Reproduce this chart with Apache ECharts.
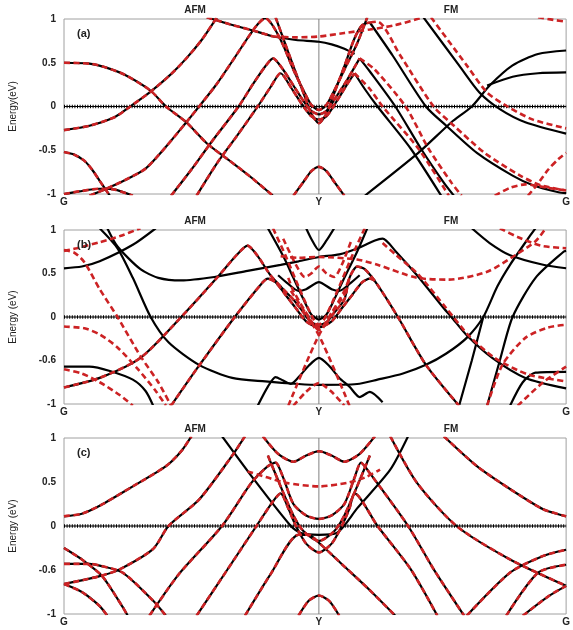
<!DOCTYPE html>
<html><head><meta charset="utf-8">
<script src="https://cdn.jsdelivr.net/npm/echarts@6/dist/echarts.min.js"></script>
<style>html,body{margin:0;padding:0;background:#fff}#c{width:573px;height:630px}</style>
</head><body><div id="c"></div>
<script>
// k-path positions and labels
const K_POS = [0, 1, 1.97];
const K_LABELS = ['G', 'Y', 'G'];
const Y_TICKS = [-1, -0.5, 0, 0.5, 1];
const Y_LABELS_A = ['-1', '-0.5', '0', '0.5', '1'];
const Y_LABELS_B = ['-1', '-0.6', '0', '0.5', '1'];
const Y_LABELS_C = ['-1', '-0.6', '0', '0.5', '1'];
const PANEL_TAGS = ['(a)', '(b)', '(c)'];
const Y_NAMES = ['Energy(eV)', 'Energy (eV)', 'Energy (eV)'];

// ---------- panel (a) ----------
const aBoth = [
  [[0,0.5],[0.1,0.49],[0.16,0.45],[0.24,0.36],[0.34,0.18],[0.4,0],[0.48,-0.18],[0.56,-0.42],[0.65,-0.62],[0.73,-0.8],[0.82,-1.02]],
  [[0,-0.27],[0.1,-0.22],[0.2,-0.12],[0.26,0],[0.34,0.17],[0.42,0.37],[0.48,0.55],[0.54,0.76],[0.58,0.93],[0.6,1.02]],
  [[0.56,1.02],[0.65,0.94],[0.74,0.87],[0.82,0.8]],
  [[0,-0.52],[0.04,-0.55],[0.08,-0.62],[0.11,-0.72],[0.14,-0.85],[0.18,-1.02]],
  [[0,-1.0],[0.06,-0.97],[0.14,-0.94],[0.2,-0.95],[0.27,-1.02]],
  [[0.1,-1.02],[0.166,-0.94],[0.24,-0.84],[0.32,-0.71],[0.4,-0.46],[0.48,-0.18],[0.53,0],[0.6,0.26],[0.67,0.56],[0.72,0.78],[0.76,0.94],[0.79,1.01],[0.82,0.92],[0.86,0.7],[0.9,0.42],[0.94,0.18],[0.97,0.02],[1.0,-0.04],[1.03,0.02],[1.06,0.18],[1.1,0.42],[1.15,0.72],[1.19,1.02]],
  [[0.42,-1.02],[0.5,-0.72],[0.58,-0.4],[0.685,0],[0.74,0.25],[0.79,0.46],[0.82,0.55],[0.86,0.42],[0.9,0.24],[0.94,0.06],[0.97,-0.05],[1.0,-0.09],[1.03,-0.05],[1.07,0.12],[1.11,0.3],[1.14,0.45],[1.16,0.55]],
  [[0.52,-1.02],[0.6,-0.65],[0.68,-0.33],[0.76,0],[0.81,0.22],[0.85,0.38],[0.89,0.22],[0.93,0.04],[0.97,-0.11],[1.0,-0.15],[1.03,-0.11],[1.07,0.06],[1.11,0.25],[1.14,0.38]],
  [[0.83,1.02],[0.86,0.78],[0.9,0.46],[0.94,0.15],[0.97,-0.08],[1.0,-0.19],[1.03,-0.08],[1.06,0.15],[1.1,0.46],[1.14,0.78],[1.17,0.93],[1.2,0.96]],
  [[0.9,-1.02],[0.94,-0.86],[0.97,-0.74],[1.0,-0.69],[1.03,-0.74],[1.06,-0.86],[1.1,-1.02]]
];
const aBlack = [
  [[0.82,0.8],[0.91,0.76],[1.0,0.74],[1.05,0.71],[1.1,0.66],[1.14,0.6]],
  [[1.16,0.55],[1.2,0.4],[1.3,0.0],[1.4,-0.48],[1.49,-0.87],[1.53,-1.02]],
  [[1.14,0.38],[1.18,0.2],[1.23,0.0],[1.36,-0.48],[1.48,-1.02]],
  [[1.2,0.96],[1.29,0.58],[1.42,0.0],[1.5,-0.22],[1.62,-0.53],[1.76,-0.79],[1.84,-0.9],[1.94,-0.98],[1.97,-0.99]],
  [[1.41,1.02],[1.55,0.47],[1.63,0.16],[1.71,-0.03],[1.81,-0.18],[1.97,-0.31]],
  [[1.18,-1.02],[1.39,-0.53],[1.52,-0.18],[1.6,0],[1.67,0.24],[1.76,0.47],[1.86,0.6],[1.97,0.64]],
  [[1.66,0.24],[1.76,0.34],[1.86,0.38],[1.97,0.39]]
];
const aRed = [
  [[0.82,0.8],[0.91,0.79],[1.0,0.8],[1.1,0.84],[1.2,0.88],[1.3,0.93],[1.41,1.02]],
  [[1.16,0.55],[1.22,0.42],[1.34,0.0],[1.43,-0.48],[1.52,-0.87],[1.56,-1.02]],
  [[1.14,0.38],[1.2,0.2],[1.25,0.0],[1.39,-0.48],[1.51,-1.02]],
  [[1.2,0.96],[1.23,0.97],[1.32,0.58],[1.45,0.0],[1.53,-0.22],[1.65,-0.53],[1.79,-0.79],[1.87,-0.9],[1.97,-0.96]],
  [[1.44,1.02],[1.58,0.47],[1.66,0.16],[1.74,0.0],[1.84,-0.15],[1.97,-0.25]],
  [[1.82,-1.02],[1.86,-0.88],[1.9,-0.72],[1.94,-0.6],[1.97,-0.53]],
  [[1.69,-1.02],[1.75,-0.93],[1.81,-0.89],[1.9,-0.93],[1.97,-0.96]],
  [[1.86,1.02],[1.92,0.99],[1.97,0.97]]
];

// ---------- panel (b) ----------
const bBoth = [
  [[0,-0.81],[0.14,-0.7],[0.3,-0.47],[0.46,0],[0.6,0.45],[0.68,0.72],[0.72,0.82],[0.76,0.7],[0.81,0.48],[0.86,0.32],[0.9,0.2],[0.94,0.05],[0.97,-0.06],[1.0,-0.09],[1.03,-0.06],[1.06,0.05],[1.1,0.2],[1.12,0.45],[1.15,0.58],[1.18,0.55],[1.23,0.37],[1.31,0.0],[1.42,-0.55],[1.55,-1.02]],
  [[0.42,-1.02],[0.52,-0.6],[0.67,0],[0.78,0.4],[0.8,0.44],[0.83,0.4],[0.87,0.25],[0.91,0.1],[0.95,-0.05],[1.0,-0.12],[1.05,-0.05],[1.09,0.1],[1.13,0.25],[1.17,0.4],[1.2,0.44],[1.22,0.42]]
];
const bBlack = [
  [[0,0.56],[0.07,0.58],[0.14,0.64],[0.27,0.83],[0.36,1.02]],
  [[0.14,1.02],[0.21,0.79],[0.27,0.45],[0.34,0.0],[0.41,-0.29],[0.53,-0.55],[0.66,-0.7],[0.79,-0.74],[0.92,-0.77],[1.0,-0.78],[1.15,-0.77],[1.23,-0.72],[1.33,-0.65],[1.42,-0.55],[1.5,-0.42],[1.58,-0.24],[1.645,0.0],[1.7,0.35],[1.75,0.6],[1.83,0.94],[1.85,1.02]],
  [[1.55,-1.02],[1.6,-0.5],[1.645,0.0]],
  [[0.17,1.02],[0.21,0.81],[0.3,0.55],[0.37,0.45],[0.46,0.42],[0.59,0.46],[0.72,0.53],[0.85,0.6],[0.92,0.64],[1.0,0.69],[1.08,0.72],[1.16,0.8],[1.22,0.88],[1.25,0.9],[1.3,0.76],[1.385,0.48],[1.49,0.1],[1.52,0.0],[1.58,-0.21],[1.68,-0.47],[1.81,-0.7],[1.97,-0.82]],
  [[1.6,1.02],[1.67,0.85],[1.75,0.71],[1.88,0.6],[1.97,0.56]],
  [[1.66,-1.02],[1.71,-0.5],[1.76,0.0],[1.85,0.45],[1.96,0.75],[1.97,0.76]],
  [[0,-0.57],[0.1,-0.57],[0.18,-0.62],[0.27,-0.72],[0.32,-0.85],[0.35,-1.02]],
  [[1.75,-1.02],[1.8,-0.75],[1.85,-0.64],[1.97,-0.63]],
  [[0.95,1.02],[0.97,0.9],[1.0,0.77],[1.03,0.88],[1.06,1.02]],
  [[0.76,-1.02],[0.8,-0.8],[0.83,-0.69],[0.86,-0.73],[0.89,-0.77],[0.93,-0.66],[0.96,-0.56],[1.0,-0.47],[1.04,-0.56],[1.08,-0.7],[1.12,-0.8],[1.16,-0.92],[1.2,-0.86],[1.25,-0.98]],
  [[0.8,1.02],[0.86,0.7],[0.9,0.45],[0.94,0.2],[0.97,0.03],[1.0,-0.03],[1.03,0.03],[1.06,0.2],[1.1,0.45],[1.15,0.75],[1.19,1.02]],
  [[0.84,0.48],[0.88,0.38],[0.92,0.3],[0.95,0.32],[1.0,0.4],[1.05,0.32],[1.08,0.3],[1.12,0.38],[1.16,0.48]]
];
const bRed = [
  [[0,0.77],[0.04,0.74],[0.08,0.63],[0.14,0.32],[0.21,0.0],[0.3,-0.45],[0.37,-0.75],[0.42,-1.02]],
  [[0,-0.11],[0.08,-0.13],[0.14,-0.2],[0.21,-0.35],[0.29,-0.6],[0.36,-0.85],[0.4,-1.02]],
  [[0,0.76],[0.05,0.79],[0.14,0.86],[0.22,0.93],[0.3,1.02]],
  [[0,-0.6],[0.07,-0.65],[0.14,-0.75],[0.22,-0.9],[0.27,-1.02]],
  [[0.85,0.7],[0.92,0.68],[1.0,0.69],[1.15,0.66],[1.23,0.6],[1.385,0.45],[1.51,0.43],[1.66,0.52],[1.77,0.71],[1.85,0.87],[1.89,1.02]],
  [[1.71,1.02],[1.78,0.92],[1.87,0.82],[1.97,0.79]],
  [[1.25,0.85],[1.3,0.72],[1.39,0.49],[1.5,0.1],[1.59,-0.22],[1.69,-0.47],[1.82,-0.66],[1.97,-0.74]],
  [[1.66,-1.02],[1.72,-0.55],[1.81,-0.24],[1.9,-0.12],[1.97,-0.09]],
  [[1.78,-1.02],[1.88,-0.75],[1.97,-0.57]],
  [[0.82,1.02],[0.87,0.7],[0.91,0.42],[0.95,0.15],[0.98,-0.03],[1.0,-0.09],[1.02,-0.03],[1.05,0.15],[1.09,0.42],[1.13,0.7],[1.18,1.02]],
  [[0.88,0.45],[0.9,0.3],[0.95,0.05],[1.0,-0.15],[1.05,0.05],[1.1,0.3],[1.12,0.45]],
  [[0.89,0.3],[1.0,-0.21],[1.12,-1.02]],
  [[0.88,-1.02],[1.0,-0.21],[1.11,0.3]],
  [[0.86,0.9],[0.91,0.6],[0.945,0.46],[0.97,0.5],[1.0,0.58],[1.03,0.5],[1.06,0.46],[1.09,0.6],[1.13,0.9]],
  [[0.9,-1.02],[0.95,-0.86],[1.0,-0.76],[1.05,-0.86],[1.1,-1.02]]
];

// ---------- panel (c) ----------
const cBoth = [
  [[0,0.11],[0.07,0.14],[0.14,0.23],[0.27,0.45],[0.4,0.68],[0.46,0.85],[0.5,1.02]],
  [[0,-0.25],[0.07,-0.38],[0.15,-0.57],[0.23,-0.92],[0.25,-1.02]],
  [[0,-0.43],[0.1,-0.43],[0.14,-0.45],[0.23,-0.53],[0.35,-0.85],[0.4,-1.02]],
  [[0,-0.66],[0.14,-0.57],[0.22,-0.49],[0.35,-0.26],[0.41,0.0],[0.53,0.3],[0.66,0.8],[0.71,1.02]],
  [[0,-0.66],[0.07,-0.75],[0.14,-0.91],[0.17,-1.02]],
  [[0.335,-1.02],[0.45,-0.55],[0.62,0.0],[0.735,0.49],[0.8,0.68],[0.83,0.72],[0.86,0.55],[0.9,0.25],[0.95,0.12],[1.0,0.08],[1.05,0.12],[1.1,0.25],[1.14,0.55],[1.165,0.72],[1.2,0.6],[1.35,0.0],[1.45,-0.49],[1.57,-1.02]],
  [[0.52,-1.02],[0.64,-0.5],[0.755,0.0],[0.82,0.28],[0.85,0.37],[0.88,0.2],[0.91,0.0],[0.95,-0.2],[1.0,-0.3],[1.05,-0.2],[1.09,0.0],[1.12,0.2],[1.14,0.37],[1.23,0.0],[1.36,-0.49],[1.465,-1.02]],
  [[0.8,0.8],[0.85,0.45],[0.9,0.12],[0.94,-0.06],[1.0,-0.17],[1.06,-0.06],[1.1,0.12],[1.15,0.45],[1.2,0.8]],
  [[0.78,1.02],[0.84,0.82],[0.9,0.73],[0.95,0.8],[1.0,0.85],[1.05,0.8],[1.1,0.73],[1.16,0.82],[1.22,1.02]],
  [[0.92,-1.02],[0.96,-0.85],[1.0,-0.79],[1.04,-0.85],[1.08,-1.02]],
  [[0.71,-1.02],[0.81,-0.55],[0.92,-0.1],[0.96,-0.1],[1.0,-0.19],[1.1,-0.46],[1.2,-0.73],[1.3,-1.02]],
  [[1.49,1.02],[1.62,0.68],[1.75,0.42],[1.88,0.19],[1.97,0.11]],
  [[1.28,1.02],[1.385,0.49],[1.54,0.0],[1.75,-0.38],[1.97,-0.68]],
  [[1.58,-1.02],[1.75,-0.53],[1.88,-0.34],[1.97,-0.27]],
  [[1.735,-1.02],[1.86,-0.53],[1.97,-0.44]],
  [[1.8,-1.02],[1.9,-0.8],[1.97,-0.68]]
];
const cBlack = [
  [[0.62,1.02],[0.74,0.55],[0.89,0.0],[0.93,-0.08],[1.0,-0.1],[1.07,-0.08],[1.15,0.2],[1.28,0.64],[1.35,1.02]]
];
const cRed = [
  [[0.72,0.62],[0.8,0.55],[0.87,0.49],[1.0,0.45],[1.11,0.49],[1.18,0.55],[1.24,0.64]]
];

const PANELS = [
  {both: aBoth, black: aBlack, red: aRed, yLabels: Y_LABELS_A},
  {both: bBoth, black: bBlack, red: bRed, yLabels: Y_LABELS_B},
  {both: cBoth, black: cBlack, red: cRed, yLabels: Y_LABELS_C}
];
const GRID_TOPS = [19, 230, 438];
const GRID_HEIGHTS = [175, 174, 176];
const TITLE_TOPS = [0, 211, 419];

const FONT = 'Liberation Sans, Arial, sans-serif';
const RED = '#cc2224';

const grids = [], xAxes = [], yAxes = [], series = [], titles = [];
PANELS.forEach((p, i) => {
  grids.push({left: 64, width: 506, top: GRID_TOPS[i], height: GRID_HEIGHTS[i],
    show: true, borderColor: '#a0a0a0', borderWidth: 1, backgroundColor: '#fff'});
  xAxes.push({gridIndex: i, type: 'value', min: K_POS[0], max: K_POS[2], interval: 1,
    axisLine: {show: false}, axisTick: {show: false}, splitLine: {show: false},
    axisLabel: {margin: 3, fontSize: 10, fontWeight: 'bold', color: '#222', fontFamily: FONT,
      showMinLabel: true, showMaxLabel: true,
      formatter: v => { let b = 0; K_POS.forEach((q, j) => { if (Math.abs(q - v) < Math.abs(K_POS[b] - v)) b = j; }); return K_LABELS[b]; }}});
  yAxes.push({gridIndex: i, type: 'value', min: -1, max: 1, interval: 0.5,
    name: Y_NAMES[i], nameLocation: 'middle', nameGap: 46,
    nameTextStyle: {fontSize: 10, color: '#222', fontFamily: FONT},
    axisLine: {show: false}, axisTick: {show: false}, splitLine: {show: false},
    axisLabel: {margin: 8, fontSize: 10, fontWeight: 'bold', color: '#222', fontFamily: FONT,
      formatter: v => { const j = Y_TICKS.findIndex(t => Math.abs(t - v) < 1e-6); return j >= 0 ? p.yLabels[j] : ''; }}});
  titles.push({text: 'AFM', left: 190, top: TITLE_TOPS[i], textAlign: 'center',
    textStyle: {fontSize: 10, fontWeight: 'bold', color: '#222', fontFamily: FONT}});
  titles.push({text: 'FM', left: 446, top: TITLE_TOPS[i], textAlign: 'center',
    textStyle: {fontSize: 10, fontWeight: 'bold', color: '#222', fontFamily: FONT}});
  titles.push({text: PANEL_TAGS[i], left: 72, top: GRID_TOPS[i] + 4,
    textStyle: {fontSize: 11, fontWeight: 'bold', color: '#222', fontFamily: FONT}});

  const base = {type: 'line', xAxisIndex: i, yAxisIndex: i, showSymbol: false, symbol: 'none',
    smooth: 0.25, silent: true, animation: false, clip: true};
  // Y vertical line
  series.push(Object.assign({}, base, {data: [[K_POS[1], -1], [K_POS[1], 1]], smooth: false,
    lineStyle: {color: '#808080', width: 1}, z: 1}));
  // Fermi level
  series.push(Object.assign({}, base, {data: [[K_POS[0], 0], [K_POS[2], 0]], smooth: false,
    lineStyle: {color: '#000', width: 1}, z: 2}));
  series.push(Object.assign({}, base, {data: [[K_POS[0], 0], [K_POS[2], 0]], smooth: false,
    lineStyle: {color: '#000', width: 3.5, type: [1, 1.6]}, z: 2}));
  const blk = p.black.concat(p.both), red = p.red.concat(p.both);
  blk.forEach(d => series.push(Object.assign({}, base, {data: d, lineStyle: {color: '#000', width: 2.2}, z: 3})));
  red.forEach(d => series.push(Object.assign({}, base, {data: d, lineStyle: {color: RED, width: 2.6, type: [6, 3.5]}, z: 4})));
});

const chart = echarts.init(document.getElementById('c'), null, {renderer: 'canvas'});
chart.setOption({backgroundColor: '#fff', animation: false, title: titles,
  grid: grids, xAxis: xAxes, yAxis: yAxes, series: series});
</script></body></html>
